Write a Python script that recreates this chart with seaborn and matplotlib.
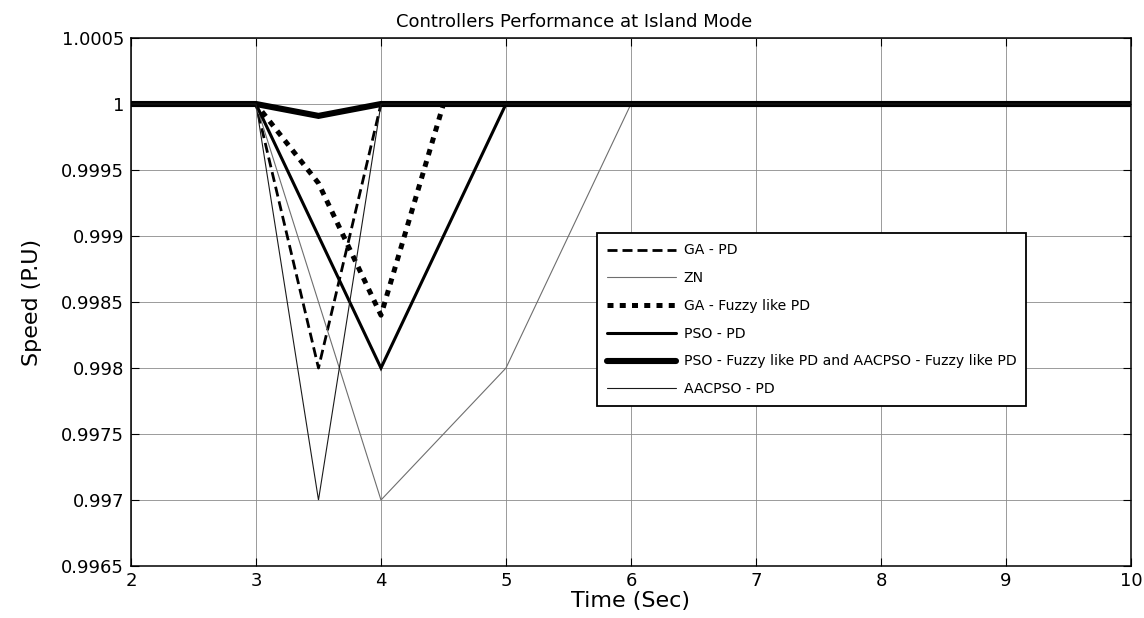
import numpy as np
import pandas as pd
import matplotlib
matplotlib.use('Agg')
import matplotlib.pyplot as plt
import seaborn as sns

# Speed response of each controller (time in sec, speed in P.U)
ga_pd_t = [2, 3, 3.5, 4, 10]
ga_pd_v = [1, 1, 0.998, 1, 1]

zn_t = [2, 3, 4, 5, 6, 10]
zn_v = [1, 1, 0.997, 0.998, 1, 1]

ga_fuzzy_t = [2, 3, 3.5, 4, 4.5, 10]
ga_fuzzy_v = [1, 1, 0.9994, 0.9984, 1, 1]

pso_pd_t = [2, 3, 4, 5, 10]
pso_pd_v = [1, 1, 0.998, 1, 1]

pso_fuzzy_t = [2, 3, 3.5, 4, 10]
pso_fuzzy_v = [1, 1, 0.99991, 1, 1]

aacpso_pd_t = [2, 3, 3.5, 4, 10]
aacpso_pd_v = [1, 1, 0.997, 1, 1]

labels = ['GA - PD', 'ZN', 'GA - Fuzzy like PD', 'PSO - PD',
          'PSO - Fuzzy like PD and AACPSO - Fuzzy like PD', 'AACPSO - PD']

x_ticks = [2, 3, 4, 5, 6, 7, 8, 9, 10]
y_ticks = [0.9965, 0.997, 0.9975, 0.998, 0.9985, 0.999, 0.9995, 1, 1.0005]
y_tick_labels = ['0.9965', '0.997', '0.9975', '0.998', '0.9985', '0.999', '0.9995', '1', '1.0005']

sns.set_style('ticks')
plt.rcParams['font.family'] = ['DejaVu Sans']
plt.rcParams['xtick.direction'] = 'in'
plt.rcParams['ytick.direction'] = 'in'
plt.rcParams['text.color'] = 'black'
plt.rcParams['axes.labelcolor'] = 'black'
plt.rcParams['xtick.color'] = 'black'
plt.rcParams['ytick.color'] = 'black'

fig = plt.figure(figsize=(11.44, 6.18), dpi=100)
ax = fig.add_axes([0.1145, 0.0841, 0.8741, 0.8544])

series = [
    (ga_pd_t, ga_pd_v, dict(color='black', lw=2.0, linestyle=(0, (3.6, 1.8)))),
    (zn_t, zn_v, dict(color='#6e6e6e', lw=0.8, linestyle='-')),
    (ga_fuzzy_t, ga_fuzzy_v, dict(color='black', lw=3.6, linestyle=(0, (1.2, 1.25)))),
    (pso_pd_t, pso_pd_v, dict(color='black', lw=2.2, linestyle='-')),
    (pso_fuzzy_t, pso_fuzzy_v, dict(color='black', lw=4.4, linestyle='-')),
    (aacpso_pd_t, aacpso_pd_v, dict(color='#1a1a1a', lw=0.8, linestyle='-')),
]

for (t, v, style), name in zip(series, labels):
    df = pd.DataFrame({'Time': t, 'Speed': v})
    sns.lineplot(data=df, x='Time', y='Speed', ax=ax, label=name,
                 solid_joinstyle='miter', **style)

ax.set_xlim(2, 10)
ax.set_ylim(0.9965, 1.0005)
ax.set_xticks(x_ticks)
ax.set_yticks(y_ticks)
ax.set_yticklabels(y_tick_labels)
ax.tick_params(axis='both', labelsize=13, length=6, width=0.8,
               top=True, right=True, color='black', labelcolor='black')
ax.tick_params(axis='y', pad=5)
ax.tick_params(axis='x', pad=4)
ax.grid(True, color='#8a8a8a', lw=0.6)
for s in ax.spines.values():
    s.set_visible(True)
    s.set_color('black')
    s.set_linewidth(1.1)

ax.set_title('Controllers Performance at Island Mode', fontsize=13, pad=8, x=0.443)
ax.set_xlabel('Time (Sec)', fontsize=16, labelpad=1)
ax.set_ylabel('Speed (P.U)', fontsize=16, labelpad=14)

leg = ax.legend(loc='upper left', bbox_to_anchor=(0.466, 0.63), fontsize=10.1,
                handlelength=4.9, handletextpad=0.55, labelspacing=0.98,
                borderpad=0.72, borderaxespad=0, fancybox=False, framealpha=1)
leg.get_frame().set_edgecolor('black')
leg.get_frame().set_linewidth(1.3)

fig.savefig('out.png', dpi=100)
plt.close(fig)
